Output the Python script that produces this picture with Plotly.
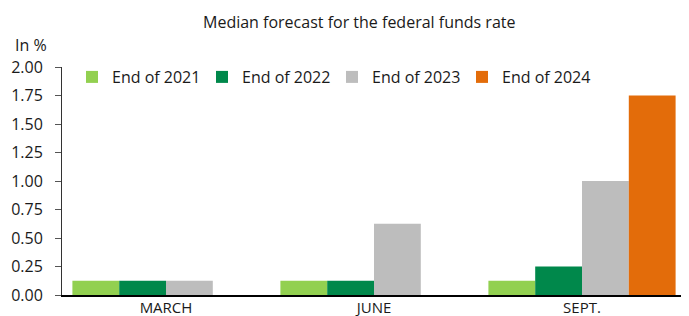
import plotly.graph_objects as go

categories = ["MARCH", "JUNE", "SEPT."]
series_names = ["End of 2021", "End of 2022", "End of 2023", "End of 2024"]
end_2021 = [0.125, 0.125, 0.125]
end_2022 = [0.125, 0.125, 0.25]
end_2023 = [0.125, 0.625, 1.0]
end_2024 = [None, None, 1.75]
colors = ["#92D050", "#00884B", "#BDBDBD", "#E36C0A"]
y_ticks = [0, 0.25, 0.5, 0.75, 1.0, 1.25, 1.5, 1.75, 2.0]

FONT = "Open Sans"
# the page body has a default 8px margin, so the figure is drawn 8px in from the top-left
OFF = 8
W, H = 689 - OFF, 316 - OFF
# plot area in page pixels: x 62..686, y 67..295
L, T = 62 - OFF, 67 - OFF
R = W - (686 - OFF)
B = H - (295 - OFF)
PW, PH = W - L - R, H - T - B


def px_to_paper(xp, yp):
    """page pixel -> paper coords"""
    return (xp - OFF - L) / PW, 1 - (yp - OFF - T) / PH


fig = go.Figure()
for name, vals, col in zip(series_names, [end_2021, end_2022, end_2023, end_2024], colors):
    fig.add_trace(go.Bar(x=categories, y=vals, name=name,
                         marker=dict(color=col, line=dict(width=0))))

lx, ly = px_to_paper(72, 77)
tx, ty = px_to_paper(359, 22)
ix, iy = px_to_paper(13, 45)

fig.update_layout(
    width=W, height=H,
    margin=dict(l=L, r=R, t=T, b=B, autoexpand=False),
    barmode="group", bargap=0.1, bargroupgap=0,
    plot_bgcolor="white", paper_bgcolor="white",
    font=dict(family=FONT, size=16, color="#1a1a1a"),
    showlegend=True,
    legend=dict(orientation="h", x=lx, xanchor="left", y=ly, yanchor="middle",
                entrywidth=85, entrywidthmode="pixels", itemwidth=30,
                font=dict(size=16), bgcolor="rgba(0,0,0,0)", traceorder="normal"),
    xaxis=dict(range=[-0.5, 2.5], showline=True, linecolor="#000000", linewidth=1.5,
               ticks="", tickfont=dict(size=15), showgrid=False, zeroline=False,
               ticklabelstandoff=-2),
    yaxis=dict(range=[0, 2.0], tickvals=y_ticks, tickformat=".2f", showline=True,
               linecolor="#333333", linewidth=1, ticks="outside", ticklen=6,
               tickcolor="#555555", showgrid=False, zeroline=False,
               tickfont=dict(size=16), ticklabelstandoff=9),
    annotations=[
        dict(text="Median forecast for the federal funds rate", x=tx, y=ty,
             xref="paper", yref="paper", showarrow=False, xanchor="center",
             yanchor="middle", font=dict(size=16)),
        dict(text="In %", x=ix, y=iy, xref="paper", yref="paper", showarrow=False,
             xanchor="left", yanchor="middle", font=dict(size=16)),
    ],
)
fig.write_html("out.html")
